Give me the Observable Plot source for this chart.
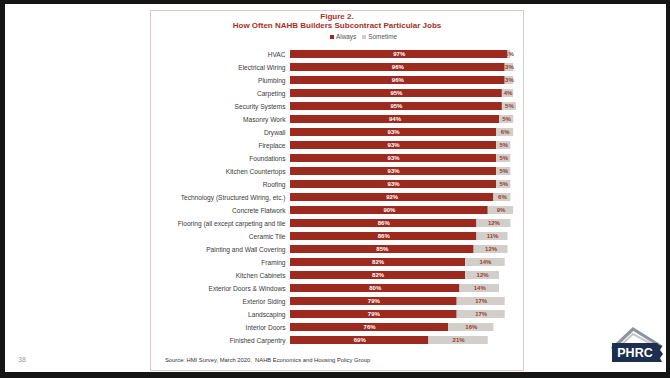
<!DOCTYPE html>
<html>
<head>
<meta charset="utf-8">
<script src="https://cdn.jsdelivr.net/npm/d3@7"></script>
<script src="https://cdn.jsdelivr.net/npm/@observablehq/plot@0.6"></script>
<style>
  html, body { margin: 0; padding: 0; background: #fff; }
  #page { position: relative; width: 670px; height: 378px; box-sizing: border-box;
    border-top: 4px solid #151515; border-left: 5px solid #151515; border-right: 4px solid #151515; border-bottom: 6px solid #151515;
    font-family: "Liberation Sans", Arial, sans-serif; overflow: hidden; }
  .abs { position: absolute; }
  #box { left: 145px; top: 6px; width: 374px; height: 361px; border: 1.5px solid #dccbc6; box-sizing: border-box; }
  .ttl { left: 145px; width: 374px; text-align: center; font-weight: bold; color: #a8301f; font-size: 8px; line-height: 9px; }
  #legend { left: 325px; top: 29px; font-size: 6.4px; line-height: 7px; color: #555; white-space: nowrap; }
  .sw { display: inline-block; width: 4px; height: 4px; margin-right: 2px; vertical-align: 0px; }
  #chart { left: 145px; top: 36px; }
  #source { left: 160px; top: 353px; font-size: 5.8px; color: #333; white-space: nowrap; }
  #pg { left: 13px; top: 352px; font-size: 7px; color: #999; }
  #logo { left: 595px; top: 317px; }
</style>
</head>
<body>
<div id="page">
  <div id="box" class="abs"></div>
  <div class="abs ttl" style="top:8px">Figure 2.</div>
  <div class="abs ttl" style="top:17px">How Often NAHB Builders Subcontract Particular Jobs</div>
  <div id="legend" class="abs"></div>
  <div id="chart" class="abs"></div>
  <div id="source" class="abs">Source: HMI Survey, March 2020,&nbsp; NAHB Economics and Housing Policy Group</div>
  <div id="pg" class="abs">38</div>
  <svg id="logo" class="abs" width="68" height="48" viewBox="0 0 68 48">
    <polyline points="12,28 33,8 62,26" fill="none" stroke="#8d949c" stroke-width="3.2"/>
    <polyline points="17,28 33,13 57,26" fill="none" stroke="#c3c8cd" stroke-width="2"/>
    <polygon points="12,22 57,22 59,24 62,25 60,29 63,33 60,37 62,41 12,41" fill="#1d2f4e"/>
    <text x="35" y="36" text-anchor="middle" font-family="Liberation Sans, Arial, sans-serif" font-weight="bold" font-size="12.5" fill="#fff">PHRC</text>
  </svg>
</div>
<script>
const categories = ["HVAC","Electrical Wiring","Plumbing","Carpeting","Security Systems","Masonry Work","Drywall","Fireplace","Foundations","Kitchen Countertops","Roofing","Technology (Structured Wiring, etc.)","Concrete Flatwork","Flooring (all except carpeting and tile","Ceramic Tile","Painting and Wall Covering","Framing","Kitchen Cabinets","Exterior Doors & Windows","Exterior Siding","Landscaping","Interior Doors","Finished Carpentry"];
const always =   [97,96,96,95,95,94,93,93,93,93,93,92,90,86,86,85,82,82,80,79,79,76,69];
const sometime = [1,3,3,4,5,5,6,5,5,5,5,6,9,12,11,12,14,12,14,17,17,16,21];
const seriesNames = ["Always", "Sometime"];
const seriesColors = ["#9c2a1f", "#d2cfcb"];
const xDomain = [20, 100];

// legend
const lg = document.getElementById("legend");
seriesNames.forEach((n, i) => {
  const s = document.createElement("span");
  s.innerHTML = `<span class="sw" style="background:${seriesColors[i]}"></span>${n}`;
  if (i > 0) s.style.marginLeft = "6px";
  lg.appendChild(s);
});

const rows = [];
categories.forEach((c, i) => {
  rows.push({cat: c, series: "Always", value: always[i], start: 0});
  rows.push({cat: c, series: "Sometime", value: sometime[i], start: always[i]});
});
// label position: centre of the visible part of each segment
const labelX = d => (Math.max(d.start, xDomain[0]) + d.start + d.value) / 2;

const chart = Plot.plot({
  width: 374,
  height: 312,
  marginLeft: 140,
  marginRight: 8,
  marginTop: 6,
  marginBottom: 4,
  style: {fontFamily: "Liberation Sans, Arial, sans-serif", fontSize: "6.6px", color: "#3a3a3a", background: "transparent"},
  x: {domain: xDomain, clamp: true, axis: null},
  y: {domain: categories, paddingInner: 0.36, paddingOuter: 0.1, label: null, tickSize: 0, tickPadding: 5},
  color: {domain: seriesNames, range: seriesColors},
  marks: [
    Plot.barX(rows, Plot.stackX({x: "value", y: "cat", fill: "series", order: seriesNames})),
    Plot.text(rows.filter(d => d.series === "Always"), {x: labelX, y: "cat", text: d => d.value + "%", fill: "#fff", fontWeight: "bold", fontSize: 6}),
    Plot.text(rows.filter(d => d.series === "Sometime"), {x: labelX, y: "cat", text: d => d.value + "%", fill: "#9a3b2e", fontWeight: "bold", fontSize: 6})
  ]
});
document.getElementById("chart").appendChild(chart);
</script>
</body>
</html>
